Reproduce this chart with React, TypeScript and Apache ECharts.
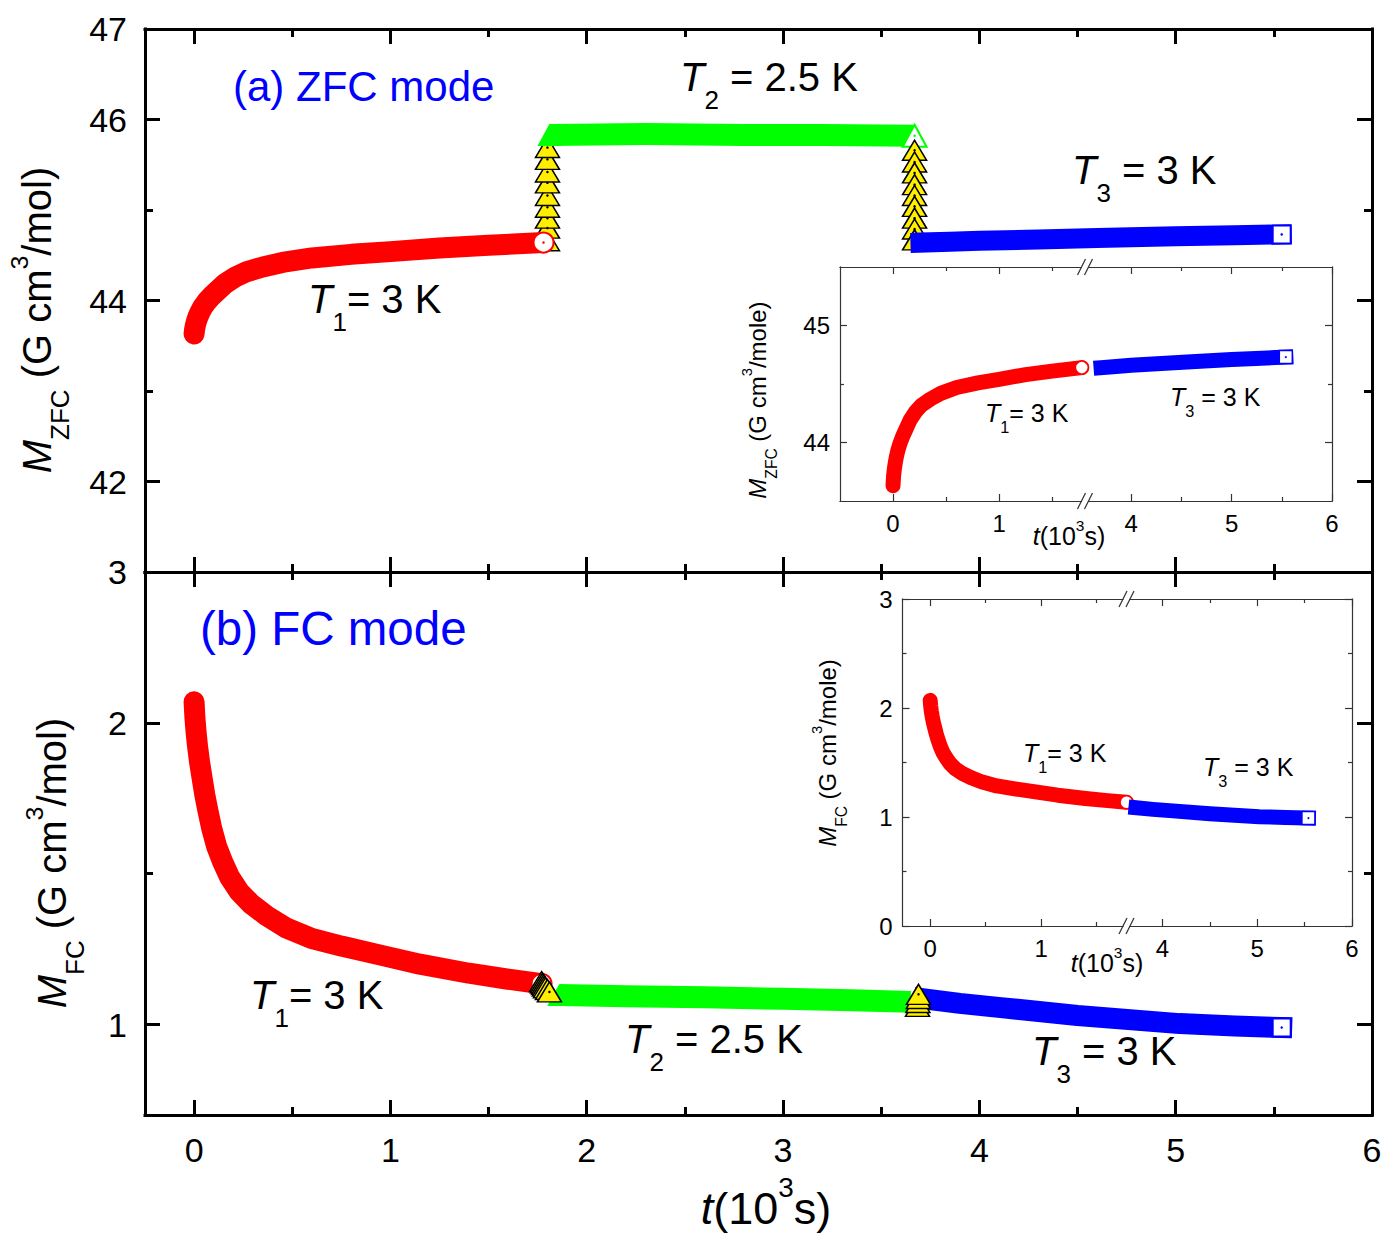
import React, { useEffect, useRef } from "react";
import * as echarts from "echarts";

// ===================== DATA (t in 10^3 s) =====================
// (a) ZFC mode
const zfcT1Time = [0, 0.002, 0.006, 0.012, 0.02, 0.03, 0.045, 0.065, 0.09, 0.12, 0.16, 0.21, 0.27, 0.35, 0.45, 0.6, 0.8, 1.0, 1.25, 1.5, 1.78];
const zfcT1M = [43.63, 43.67, 43.72, 43.77, 43.82, 43.87, 43.93, 43.99, 44.05, 44.11, 44.19, 44.26, 44.32, 44.37, 44.42, 44.47, 44.51, 44.54, 44.58, 44.61, 44.64];
const zfcUpTime = [1.8, 1.8, 1.8, 1.8, 1.8, 1.8, 1.8, 1.8, 1.8];
const zfcUpM = [44.66, 44.8, 44.91, 45.03, 45.16, 45.3, 45.42, 45.56, 45.69];
const zfcT2Time = [1.81, 2.3, 2.8, 3.2, 3.67];
const zfcT2M = [45.83, 45.84, 45.83, 45.83, 45.82];
const zfcDownTime = [3.67, 3.67, 3.67, 3.67, 3.67, 3.67, 3.67, 3.67, 3.67];
const zfcDownM = [45.66, 45.53, 45.41, 45.28, 45.16, 45.04, 44.91, 44.79, 44.67];
const zfcT3Time = [3.7, 3.85, 4.0, 4.3, 4.6, 5.0, 5.3, 5.54];
const zfcT3M = [44.64, 44.65, 44.66, 44.675, 44.69, 44.71, 44.72, 44.73];

// (b) FC mode
const fcT1Time = [0, 0.004, 0.01, 0.018, 0.028, 0.04, 0.055, 0.07, 0.09, 0.115, 0.145, 0.18, 0.23, 0.29, 0.37, 0.47, 0.6, 0.75, 0.95, 1.15, 1.4, 1.6, 1.77];
const fcT1M = [2.07, 2.02, 1.97, 1.92, 1.87, 1.82, 1.76, 1.71, 1.65, 1.59, 1.54, 1.49, 1.44, 1.4, 1.36, 1.32, 1.285, 1.26, 1.23, 1.2, 1.17, 1.15, 1.135];
const fcJump1Time = [1.77, 1.775, 1.78, 1.785, 1.79, 1.8, 1.81];
const fcJump1M = [1.142, 1.137, 1.132, 1.127, 1.122, 1.116, 1.108];
const fcT2Time = [1.86, 2.2, 2.6, 3.0, 3.35, 3.65];
const fcT2M = [1.098, 1.094, 1.09, 1.085, 1.08, 1.075];
const fcJump2Time = [3.685, 3.687, 3.689, 3.69];
const fcJump2M = [1.06, 1.073, 1.086, 1.1];
const fcT3Time = [3.72, 3.9, 4.11, 4.5, 5.02, 5.3, 5.54];
const fcT3M = [1.085, 1.07, 1.056, 1.03, 1.003, 0.995, 0.99];

// ===================== AXES / TICKS =====================
const mainXRange = [-0.25, 6];
const mainXMajor = [0, 1, 2, 3, 4, 5, 6];
const mainXMinor = [0.5, 1.5, 2.5, 3.5, 4.5, 5.5];
const mainXLabels = [0, 1, 2, 3, 4, 5, 6];

const zfcYRange = [41, 47];
const zfcYMajor = [42, 44, 46];
const zfcYMinor = [43, 45];
const zfcYLabelVals = [42, 44, 46, 47];
const zfcYLabelTexts = ["42", "44", "46", "47"];

const fcYRange = [0.7, 2.5];
const fcYMajor = [1, 2];
const fcYMinor = [1.5];
const fcYLabelVals = [1, 2, 2.5];
const fcYLabelTexts = ["1", "2", "3"];

const zfcInsetLeftX = [-0.5, 1.81];
const zfcInsetRightX = [3.54, 6];
const zfcInsetY = [43.5, 45.5];
const zfcInsetYMajor = [44, 45];
const zfcInsetYMinor = [44.5];
const zfcInsetYLabels = [44, 45];

const fcInsetLeftX = [-0.25, 1.77];
const fcInsetRightX = [3.62, 6];
const fcInsetY = [0, 3];
const fcInsetYMajor = [0, 1, 2, 3];
const fcInsetYMinor = [0.5, 1.5, 2.5];
const fcInsetYLabels = [0, 1, 2, 3];

const insetLeftXMajor = [0, 1];
const insetLeftXMinor = [0.5, 1.5];
const insetLeftXLabels = [0, 1];
const insetRightXMajor = [4, 5, 6];
const insetRightXMinor = [4.5, 5.5];
const insetRightXLabels = [4, 5, 6];

// ===================== STYLE =====================
const FONT = "'Liberation Sans', Arial, Helvetica, sans-serif";
const RED = "#ff0000";
const GREEN = "#00ff00";
const BLUE = "#0000ff";
const YELLOW = "#ffee00";

const MAIN = { color: "#000", lw: 3, majorLen: 15, minorLen: 8, fs: 34, margin: 18 };
const INSET = { color: "#333", lw: 1.2, majorLen: 7, minorLen: 4, fs: 24, margin: 10 };

type AxisCfg = {
  grid: number;
  pos: string;
  range: number[];
  major: number[];
  minor: number[];
  labels?: number[];
  texts?: string[];
  sty: typeof MAIN;
};

function addAxis(list: any[], c: AxisCfg): number {
  const s = c.sty;
  const idx = list.length;
  const common = {
    type: "value",
    gridIndex: c.grid,
    position: c.pos,
    min: c.range[0],
    max: c.range[1],
    splitLine: { show: false },
    minorTick: { show: false },
    minorSplitLine: { show: false },
    axisPointer: { show: false },
    silent: true,
  };
  const lbls = c.labels;
  list.push({
    ...common,
    axisLine: { show: true, onZero: false, lineStyle: { color: s.color, width: s.lw, cap: "square" } },
    axisTick: {
      show: c.major.length > 0,
      inside: true,
      length: s.majorLen,
      customValues: c.major,
      lineStyle: { color: s.color, width: s.lw },
    },
    axisLabel: lbls
      ? {
          show: true,
          customValues: lbls,
          formatter: (v: number) => {
            const i = lbls.findIndex((u) => Math.abs(u - v) < 1e-9);
            if (i < 0) return "";
            return c.texts ? c.texts[i] : String(lbls[i]);
          },
          color: "#000",
          fontSize: s.fs,
          fontFamily: FONT,
          margin: s.margin,
        }
      : { show: false },
  });
  if (c.minor.length) {
    list.push({
      ...common,
      axisLine: { show: false, onZero: false },
      axisTick: {
        show: true,
        inside: true,
        length: s.minorLen,
        customValues: c.minor,
        lineStyle: { color: s.color, width: s.lw },
      },
      axisLabel: { show: false },
    });
  }
  return idx;
}

const pairs = (t: number[], m: number[]) => t.map((v, i) => [v, m[i]]);
const lastOf = (t: number[], m: number[]) => [[t[t.length - 1], m[m.length - 1]]];
const firstOf = (t: number[], m: number[]) => [[t[0], m[0]]];

function band(xi: number, yi: number, data: number[][], color: string, width: number, cap: string) {
  return {
    type: "line",
    xAxisIndex: xi,
    yAxisIndex: yi,
    data,
    symbol: "none",
    showSymbol: false,
    silent: true,
    lineStyle: { color, width, cap, join: "round" },
    itemStyle: { color },
    emphasis: { disabled: true },
  };
}

function marks(
  xi: number,
  yi: number,
  data: number[][],
  symbol: string,
  size: number | number[],
  fill: string,
  stroke: string,
  bw: number,
  clip = true
) {
  return {
    type: "scatter",
    xAxisIndex: xi,
    yAxisIndex: yi,
    data,
    symbol,
    symbolSize: size,
    silent: true,
    clip,
    itemStyle: { color: fill, borderColor: stroke, borderWidth: bw, opacity: 1 },
    emphasis: { disabled: true },
  };
}

function richStyles(fs: number, color: string) {
  const pad = fs * 0.3;
  const base = { fontSize: fs, fontFamily: FONT, lineHeight: fs, fill: color, color, verticalAlign: "top" };
  return {
    n: { ...base, padding: [pad, 0, 0, 0] },
    i: { ...base, fontStyle: "italic", padding: [pad, 0, 0, 0] },
    sub: { ...base, fontSize: fs * 0.65, lineHeight: fs * 0.65, padding: [pad + fs * 0.745, 0, 0, 0] },
    sup: { ...base, fontSize: fs * 0.62, lineHeight: fs * 0.62, padding: [Math.max(0, pad - fs * 0.26), 0, 0, 0] },
  };
}

function richText(
  text: string,
  fs: number,
  anchor: number,
  capPos: number,
  opts: { rotate?: boolean; align?: string; color?: string } = {}
) {
  const pad = fs * 0.3;
  const top = capPos - pad - fs / 2;
  const align = opts.align || "left";
  const color = opts.color || "#000";
  const style = {
    text,
    rich: richStyles(fs, color),
    fontSize: fs,
    fontFamily: FONT,
    fill: color,
    align,
    verticalAlign: "top",
    textAlign: align,
    textVerticalAlign: "top",
  };
  return opts.rotate
    ? { type: "text", x: top, y: anchor, rotation: Math.PI / 2, style, z: 200, silent: true }
    : { type: "text", x: anchor, y: top, style, z: 200, silent: true };
}

function plainText(text: string, x: number, y: number, fs: number, color: string) {
  return {
    type: "text",
    x,
    y,
    z: 200,
    silent: true,
    style: {
      text,
      fill: color,
      fontSize: fs,
      fontFamily: FONT,
      align: "left",
      verticalAlign: "middle",
      textAlign: "left",
      textVerticalAlign: "middle",
    },
  };
}

function breakMark(bx: number, by: number) {
  const els: any[] = [
    { type: "rect", shape: { x: bx - 3, y: by - 2, width: 6, height: 4 }, style: { fill: "#fff" }, z: 210, silent: true },
  ];
  for (const d of [-3.5, 3.5]) {
    els.push({
      type: "line",
      shape: { x1: bx + d - 4, y1: by + 8, x2: bx + d + 4, y2: by - 8 },
      style: { stroke: "#333", lineWidth: 1.2 },
      z: 211,
      silent: true,
    });
  }
  return els;
}

function buildOption() {
  const grids = [
    { left: 145, top: 29, width: 1227, height: 543 },
    { left: 145, top: 572, width: 1227, height: 543 },
    { left: 840, top: 267, width: 245, height: 234 },
    { left: 1085, top: 267, width: 247, height: 234 },
    { left: 902.5, top: 599, width: 224, height: 327 },
    { left: 1126.5, top: 599, width: 225.5, height: 327 },
  ].map((g) => ({ ...g, containLabel: false, outerBoundsMode: "none", show: false }));

  const xAxis: any[] = [];
  const yAxis: any[] = [];

  // main top (ZFC)
  const x0 = addAxis(xAxis, { grid: 0, pos: "bottom", range: mainXRange, major: mainXMajor, minor: mainXMinor, sty: MAIN });
  addAxis(xAxis, { grid: 0, pos: "top", range: mainXRange, major: mainXMajor, minor: mainXMinor, sty: MAIN });
  const y0 = addAxis(yAxis, { grid: 0, pos: "left", range: zfcYRange, major: zfcYMajor, minor: zfcYMinor, labels: zfcYLabelVals, texts: zfcYLabelTexts, sty: MAIN });
  addAxis(yAxis, { grid: 0, pos: "right", range: zfcYRange, major: zfcYMajor, minor: zfcYMinor, sty: MAIN });

  // main bottom (FC)
  const x1 = addAxis(xAxis, { grid: 1, pos: "bottom", range: mainXRange, major: mainXMajor, minor: mainXMinor, labels: mainXLabels, sty: MAIN });
  addAxis(xAxis, { grid: 1, pos: "top", range: mainXRange, major: mainXMajor, minor: mainXMinor, sty: MAIN });
  const y1 = addAxis(yAxis, { grid: 1, pos: "left", range: fcYRange, major: fcYMajor, minor: fcYMinor, labels: fcYLabelVals, texts: fcYLabelTexts, sty: MAIN });
  addAxis(yAxis, { grid: 1, pos: "right", range: fcYRange, major: fcYMajor, minor: fcYMinor, sty: MAIN });

  // ZFC inset, left segment
  const x2 = addAxis(xAxis, { grid: 2, pos: "bottom", range: zfcInsetLeftX, major: insetLeftXMajor, minor: insetLeftXMinor, labels: insetLeftXLabels, sty: INSET });
  addAxis(xAxis, { grid: 2, pos: "top", range: zfcInsetLeftX, major: insetLeftXMajor, minor: insetLeftXMinor, sty: INSET });
  const y2 = addAxis(yAxis, { grid: 2, pos: "left", range: zfcInsetY, major: zfcInsetYMajor, minor: zfcInsetYMinor, labels: zfcInsetYLabels, sty: INSET });
  // ZFC inset, right segment
  const x3 = addAxis(xAxis, { grid: 3, pos: "bottom", range: zfcInsetRightX, major: insetRightXMajor, minor: insetRightXMinor, labels: insetRightXLabels, sty: INSET });
  addAxis(xAxis, { grid: 3, pos: "top", range: zfcInsetRightX, major: insetRightXMajor, minor: insetRightXMinor, sty: INSET });
  const y3 = addAxis(yAxis, { grid: 3, pos: "right", range: zfcInsetY, major: zfcInsetYMajor, minor: zfcInsetYMinor, sty: INSET });

  // FC inset, left segment
  const x4 = addAxis(xAxis, { grid: 4, pos: "bottom", range: fcInsetLeftX, major: insetLeftXMajor, minor: insetLeftXMinor, labels: insetLeftXLabels, sty: INSET });
  addAxis(xAxis, { grid: 4, pos: "top", range: fcInsetLeftX, major: insetLeftXMajor, minor: insetLeftXMinor, sty: INSET });
  const y4 = addAxis(yAxis, { grid: 4, pos: "left", range: fcInsetY, major: fcInsetYMajor, minor: fcInsetYMinor, labels: fcInsetYLabels, sty: INSET });
  // FC inset, right segment
  const x5 = addAxis(xAxis, { grid: 5, pos: "bottom", range: fcInsetRightX, major: insetRightXMajor, minor: insetRightXMinor, labels: insetRightXLabels, sty: INSET });
  addAxis(xAxis, { grid: 5, pos: "top", range: fcInsetRightX, major: insetRightXMajor, minor: insetRightXMinor, sty: INSET });
  const y5 = addAxis(yAxis, { grid: 5, pos: "right", range: fcInsetY, major: fcInsetYMajor, minor: fcInsetYMinor, sty: INSET });

  const zfcT1 = pairs(zfcT1Time, zfcT1M);
  const zfcT2 = pairs(zfcT2Time, zfcT2M);
  const zfcT3 = pairs(zfcT3Time, zfcT3M);
  const zfcUp = pairs(zfcUpTime, zfcUpM);
  const zfcDown = pairs(zfcDownTime, zfcDownM);
  const fcT1 = pairs(fcT1Time, fcT1M);
  const fcT2 = pairs(fcT2Time, fcT2M);
  const fcT3 = pairs(fcT3Time, fcT3M);
  const fcJ1 = pairs(fcJump1Time, fcJump1M);
  const fcJ2 = pairs(fcJump2Time, fcJump2M);

  const TRI = [24, 20];
  const GTRI = [24, 22];

  const ordered: any[] = [
    // ----- (a) ZFC main -----
    marks(x0, y0, zfcUp, "triangle", TRI, YELLOW, "#000", 1.5),
    marks(x0, y0, zfcUp, "circle", 2.5, "#000", "#000", 0),
    band(x0, y0, zfcT1, RED, 21, "round"),
    marks(x0, y0, lastOf(zfcT1Time, zfcT1M), "circle", 20, "#fff", RED, 2),
    marks(x0, y0, lastOf(zfcT1Time, zfcT1M), "circle", 2.5, RED, RED, 0),
    band(x0, y0, zfcT2, GREEN, 22, "butt"),
    marks(x0, y0, firstOf(zfcT2Time, zfcT2M), "triangle", GTRI, GREEN, GREEN, 0),
    marks(x0, y0, lastOf(zfcT2Time, zfcT2M), "triangle", GTRI, "#fff", GREEN, 2),
    marks(x0, y0, lastOf(zfcT2Time, zfcT2M), "circle", 2.5, GREEN, GREEN, 0),
    marks(x0, y0, zfcDown, "triangle", TRI, YELLOW, "#000", 1.5),
    marks(x0, y0, zfcDown, "circle", 2.5, "#000", "#000", 0),
    band(x0, y0, zfcT3, BLUE, 20, "square"),
    marks(x0, y0, lastOf(zfcT3Time, zfcT3M), "rect", 18, "#fff", BLUE, 2),
    marks(x0, y0, lastOf(zfcT3Time, zfcT3M), "circle", 2.5, BLUE, BLUE, 0),

    // ----- (b) FC main -----
    band(x1, y1, fcT1, RED, 21, "round"),
    marks(x1, y1, lastOf(fcT1Time, fcT1M), "circle", 20, "#fff", RED, 2),
    band(x1, y1, fcT2, GREEN, 22, "butt"),
    marks(x1, y1, firstOf(fcT2Time, fcT2M), "triangle", GTRI, GREEN, GREEN, 0),
    band(x1, y1, fcT3, BLUE, 21, "square"),
    marks(x1, y1, lastOf(fcT3Time, fcT3M), "rect", 18, "#fff", BLUE, 2),
    marks(x1, y1, lastOf(fcT3Time, fcT3M), "circle", 2.5, BLUE, BLUE, 0),
    marks(x1, y1, fcJ1, "triangle", TRI, YELLOW, "#000", 1.5),
    marks(x1, y1, lastOf(fcJump1Time, fcJump1M), "circle", 2.5, "#000", "#000", 0),
    marks(x1, y1, fcJ2, "triangle", TRI, YELLOW, "#000", 1.5),
    marks(x1, y1, lastOf(fcJump2Time, fcJump2M), "circle", 2.5, "#000", "#000", 0),

    // ----- ZFC inset -----
    band(x2, y2, zfcT1, RED, 15, "round"),
    marks(x2, y2, lastOf(zfcT1Time, zfcT1M), "circle", 13, "#fff", RED, 1.5, false),
    band(x3, y3, zfcT3, BLUE, 15, "square"),
    marks(x3, y3, lastOf(zfcT3Time, zfcT3M), "rect", 13, "#fff", BLUE, 1.5, false),
    marks(x3, y3, lastOf(zfcT3Time, zfcT3M), "circle", 2, BLUE, BLUE, 0, false),

    // ----- FC inset -----
    band(x4, y4, fcT1, RED, 15, "round"),
    marks(x4, y4, lastOf(fcT1Time, fcT1M), "circle", 13, "#fff", RED, 1.5, false),
    band(x5, y5, fcT3, BLUE, 15, "square"),
    marks(x5, y5, lastOf(fcT3Time, fcT3M), "rect", 13, "#fff", BLUE, 1.5, false),
    marks(x5, y5, lastOf(fcT3Time, fcT3M), "circle", 2, BLUE, BLUE, 0, false),
  ];
  // draw strictly in declaration order
  const series = ordered.map((s, i) => ({ ...s, z: 3 + i }));

  const graphic: any[] = [
    // panel labels
    plainText("(a) ZFC mode", 233, 86, 42, BLUE),
    plainText("(b) FC mode", 200, 628, 47.5, BLUE),
    // temperature labels, main panels
    richText("{i|T}{sub|2}{n| = 2.5 K}", 40, 680, 77),
    richText("{i|T}{sub|3}{n| = 3 K}", 40, 1072, 170),
    richText("{i|T}{sub|1}{n|= 3 K}", 40, 308, 299),
    richText("{i|T}{sub|1}{n|= 3 K}", 40, 250, 995),
    richText("{i|T}{sub|2}{n| = 2.5 K}", 40, 625, 1039),
    richText("{i|T}{sub|3}{n| = 3 K}", 40, 1032, 1051),
    // main axis titles
    richText("{i|M}{sub|ZFC}{n| (G cm}{sup|3}{n|/mol)}", 40, 320, 37, { rotate: true, align: "center" }),
    richText("{i|M}{sub|FC}{n| (G cm}{sup|3}{n|/mol)}", 40, 863, 52, { rotate: true, align: "center" }),
    richText("{i|t}{n|(10}{sup|3}{n|s)}", 45, 766, 1208, { align: "center" }),
    // ZFC inset texts
    richText("{i|T}{sub|1}{n|= 3 K}", 25, 985, 413),
    richText("{i|T}{sub|3}{n| = 3 K}", 25, 1170, 397),
    richText("{i|M}{sub|ZFC}{n| (G cm}{sup|3}{n|/mole)}", 24, 400, 758, { rotate: true, align: "center" }),
    richText("{i|t}{n|(10}{sup|3}{n|s)}", 25, 1069, 536, { align: "center" }),
    // FC inset texts
    richText("{i|T}{sub|1}{n|= 3 K}", 25, 1023, 753),
    richText("{i|T}{sub|3}{n| = 3 K}", 25, 1203, 767),
    richText("{i|M}{sub|FC}{n| (G cm}{sup|3}{n|/mole)}", 24, 753, 828, { rotate: true, align: "center" }),
    richText("{i|t}{n|(10}{sup|3}{n|s)}", 25, 1107, 963, { align: "center" }),
    // axis break marks
    ...breakMark(1085, 267),
    ...breakMark(1085, 501),
    ...breakMark(1126.5, 599),
    ...breakMark(1126.5, 926),
  ];

  return {
    animation: false,
    backgroundColor: "#fff",
    grid: grids,
    xAxis,
    yAxis,
    series,
    graphic,
  };
}

export default function App() {
  const ref = useRef<HTMLDivElement>(null);
  useEffect(() => {
    if (!ref.current) return;
    const chart = echarts.init(ref.current, null, { renderer: "svg" });
    chart.setOption(buildOption() as any);
    return () => chart.dispose();
  }, []);
  return (
    <div
      ref={ref}
      style={{ position: "absolute", left: 0, top: 0, width: 1390, height: 1240, background: "#fff" }}
    />
  );
}
